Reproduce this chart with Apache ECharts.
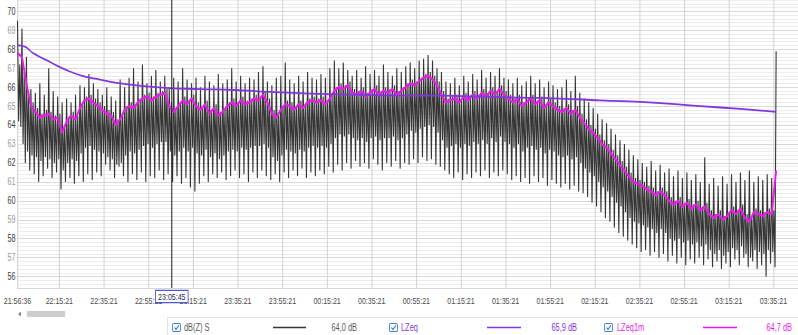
<!DOCTYPE html>
<html><head><meta charset="utf-8">
<script src="https://cdn.jsdelivr.net/npm/echarts@6/dist/echarts.min.js"></script>
<style>html,body{margin:0;padding:0;background:#fff;}
#wrap{width:798px;height:335px;overflow:hidden;position:relative;}
#c{width:1108px;height:335px;transform:scaleX(0.720217);transform-origin:0 0;}</style>
</head><body><div id="wrap"><div id="c"></div></div>
<script>
// ---------- data ----------
const startTime = '21:56:36';
const xTickLabels = ['21:56:36','22:15:21','22:35:21','22:55:21','23:15:21','23:35:21','23:55:21','00:15:21','00:35:21','00:55:21','01:15:21','01:35:21','01:55:21','02:15:21','02:35:21','02:55:21','03:15:21','03:35:21'];
const yTickLabels = [56,57,58,59,60,61,62,63,64,65,66,67,68,69,70];
const cursorTime = '23:05:45';
const seriesNames = ['dB(Z) S','LZeq','LZeq1m'];
const legendValues = ['64,0 dB','65,9 dB','64,7 dB'];
// dB(Z) S : one reading every half minute from start (peaks and troughs)
const dbzsStepMin = 0.5;
const dbzs = [
69.5,64.2,67.2,63.9, 69.1,63.0,66.8,62.0, 67.6,62.6,65.8,61.6, 65.9,62.4,65.2,61.4, 65.7,62.3,64.9,61.0,
66.2,62.1,64.6,61.3, 65.6,62.3,64.8,61.7, 67.0,62.2,64.7,61.2, 65.8,62.0,64.5,61.5, 65.5,62.2,64.6,60.6,
65.2,61.6,63.9,61.0, 65.4,62.0,64.4,61.2, 65.2,62.2,64.7,60.9, 65.6,62.1,64.5,61.3, 66.1,62.5,65.1,61.0,
66.0,62.8,65.5,61.4, 66.7,62.9,65.6,61.1, 66.2,62.7,65.4,61.5, 65.9,62.6,65.2,61.3, 65.6,62.5,65.0,61.9,
66.0,62.3,64.8,61.6, 65.5,62.2,64.7,61.2, 65.3,61.9,64.3,61.8, 66.4,62.0,64.5,61.3, 66.0,62.4,65.0,61.0,
66.5,62.6,65.2,61.4, 67.0,62.5,65.1,61.1, 66.3,62.7,65.4,61.5, 67.2,62.9,65.6,61.0, 66.2,63.0,65.7,61.3,
66.6,62.8,65.5,61.2, 66.9,63.0,65.7,61.6, 66.3,63.1,65.8,61.1, 66.6,63.1,65.9,61.4, 66.0,62.6,65.2,61.0,
66.5,62.4,64.9,61.3, 66.3,62.6,65.2,60.9, 67.0,62.8,65.5,61.2, 66.4,62.6,65.3,60.7, 66.2,62.8,65.6,60.5,
66.5,62.5,65.2,60.9, 66.0,62.4,65.0,61.3, 66.6,62.7,65.3,61.0, 66.3,62.3,64.8,61.4, 66.1,62.5,65.1,61.2,
66.7,62.2,64.7,61.5, 66.2,62.4,64.9,61.1, 66.4,62.6,65.2,61.3, 67.0,62.7,65.4,61.6, 66.3,62.6,65.2,61.2,
66.6,62.8,65.5,61.4, 66.2,62.7,65.3,61.0, 66.5,62.8,65.4,61.5, 66.4,62.9,65.6,61.2, 66.8,62.9,65.5,61.6,
67.1,63.0,65.8,61.3, 66.3,62.8,65.4,61.1, 66.1,62.3,64.8,61.4, 66.5,62.1,64.6,61.0, 66.6,62.4,65.0,61.5,
67.3,62.7,65.3,61.2, 66.4,62.6,65.2,61.6, 66.2,62.5,65.0,61.3, 66.6,62.7,65.3,61.7, 66.3,62.6,65.1,61.2,
66.8,62.8,65.4,61.5, 66.5,62.9,65.5,61.3, 66.4,62.8,65.4,61.6, 66.7,62.9,65.5,61.4, 66.5,62.8,65.3,61.8,
67.0,63.0,65.6,61.5, 67.4,63.3,66.0,61.9, 67.0,63.5,66.2,61.6, 67.3,63.4,66.1,62.0, 66.9,63.5,66.3,61.7,
66.6,63.3,65.9,62.1, 66.9,63.2,65.8,61.8, 66.5,63.3,66.0,62.0, 67.1,63.1,65.7,61.7, 66.7,63.3,65.9,62.2,
66.9,63.4,66.1,61.9, 66.6,63.2,65.8,61.6, 67.2,63.3,66.0,62.0, 66.8,63.3,65.9,61.8, 66.6,63.4,66.1,62.1,
67.0,63.2,65.8,61.7, 66.8,63.3,66.0,62.0, 67.1,63.5,66.2,61.9, 67.3,63.7,66.4,62.2, 67.0,63.6,66.3,62.0,
67.4,63.8,66.5,62.3, 67.5,63.9,66.7,62.1, 67.7,64.0,66.8,62.2, 67.4,63.9,66.6,61.9, 67.0,63.6,66.3,61.8,
66.8,63.2,65.8,61.6, 66.3,62.8,65.4,61.4, 66.2,62.9,65.5,61.2, 66.5,63.0,65.6,61.5, 66.1,62.8,65.4,61.1,
66.6,63.0,65.7,61.4, 66.3,62.9,65.5,61.2, 66.7,63.1,65.8,61.5, 66.4,63.0,65.6,61.3, 66.9,63.2,65.9,61.6,
66.5,63.0,65.7,61.2, 66.8,63.3,66.0,61.5, 66.6,63.1,65.8,61.3, 67.0,63.4,66.1,61.6, 66.5,63.1,65.8,61.4,
66.4,63.0,65.6,61.1, 66.2,62.8,65.4,61.3, 66.5,63.0,65.6,61.0, 66.1,62.6,65.2,61.2, 66.3,62.8,65.4,60.9,
66.6,62.9,65.6,61.3, 66.2,62.7,65.3,61.0, 66.4,62.8,65.5,61.2, 66.0,62.5,65.1,60.8, 66.3,62.7,65.4,61.1,
66.1,62.6,65.2,60.9, 65.9,62.4,65.0,60.7, 66.0,62.3,64.9,60.9, 66.4,62.4,65.1,60.6, 65.8,62.2,64.8,60.8,
66.6,62.3,65.0,60.5, 65.7,62.0,64.6,60.4, 65.4,61.7,64.3,60.2, 65.2,61.5,64.0,59.9, 64.9,61.3,63.8,59.7,
64.6,61.0,63.5,59.4, 64.3,60.7,63.2,59.1, 64.1,60.5,63.0,58.9, 63.8,60.2,62.7,58.6, 63.5,59.9,62.4,58.3,
63.2,59.7,62.1,58.1, 63.0,59.4,61.8,57.9, 62.7,59.1,61.5,57.7, 62.4,58.9,61.2,57.5, 62.2,58.8,61.1,57.3,
62.0,58.7,61.0,57.4, 61.8,58.6,60.8,57.1, 62.1,58.5,60.7,57.3, 61.6,58.3,60.5,57.0, 61.9,58.5,60.7,57.2,
61.5,58.3,60.5,56.8, 61.7,58.0,60.2,57.1, 61.3,57.9,60.0,56.7, 61.6,58.0,60.2,57.0, 61.2,57.8,59.9,56.6,
61.5,57.9,60.1,56.9, 61.1,57.7,59.8,56.7, 61.4,57.8,60.0,57.0, 61.0,57.6,59.7,56.6, 62.3,57.7,59.9,56.9,
60.9,57.4,59.5,56.5, 61.2,57.2,59.3,56.8, 60.8,57.4,59.5,56.4, 61.3,57.1,59.2,56.7, 60.9,57.3,59.4,56.5,
61.4,57.5,59.7,56.9, 61.0,57.4,59.5,56.6, 61.5,57.6,59.8,57.0, 61.1,57.2,59.3,56.5, 61.6,57.0,59.1,56.8,
61.0,57.4,59.6,56.4, 61.3,57.3,59.5,56.6, 61.1,57.2,59.4,56.0, 61.4,57.4,59.6,56.7, 61.2,57.3,59.5,56.5,
67.9
];
// LZeq1m : one reading every 2 minutes from start
const lzeq1mStepMin = 2;
const lzeq1m = [
67.8,67.6,66.2,65.0,64.7,64.4,64.5,64.6,64.3,64.4,
63.6,64.2,64.5,64.3,64.9,65.3,65.4,65.2,65.0,64.8,
64.6,64.5,64.0,64.3,64.8,65.0,64.9,65.2,65.4,65.5,
65.3,65.5,65.6,65.7,65.0,64.7,65.0,65.3,65.1,65.4,
65.0,64.8,65.1,64.6,64.9,64.5,64.7,65.0,65.2,65.0,
65.3,65.1,65.2,65.4,65.3,65.6,65.2,64.6,64.4,64.8,
65.1,65.0,64.8,65.1,64.9,65.2,65.3,65.2,65.3,65.1,
65.4,65.8,66.0,65.9,66.1,65.7,65.6,65.8,65.5,65.7,
65.9,65.6,65.8,65.7,65.9,65.6,65.8,66.0,66.2,66.1,
66.3,66.5,66.6,66.4,66.1,65.6,65.2,65.3,65.4,65.2,
65.5,65.3,65.6,65.4,65.7,65.5,65.8,65.6,65.9,65.6,
65.4,65.2,65.4,65.0,65.2,65.4,65.1,65.3,64.9,65.2,
65.0,64.8,64.7,64.9,64.6,64.8,64.4,64.1,63.8,63.6,
63.3,63.0,62.8,62.5,62.2,61.9,61.6,61.3,61.0,60.9,
60.8,60.6,60.5,60.3,60.5,60.3,60.0,59.8,60.0,59.7,
59.9,59.6,59.8,59.5,59.7,59.3,59.1,59.3,59.0,59.2,
59.5,59.3,59.6,59.1,58.9,59.4,59.3,59.2,59.4,59.3,
61.6
];
// LZeq (running) : time, value
const lzeqTimes = ['21:56:36','21:59:36','22:03:36','22:11:36','22:18:36','22:25:36','22:33:36','22:42:36','22:53:36','23:04:36','23:18:36','23:33:36','23:49:36','00:10:36','00:29:36','00:47:36','01:05:36','01:23:36','01:41:36','01:59:36','02:17:36','02:39:36','03:02:36','03:20:36','03:36:36'];
const lzeqValues = [68.2,68.15,67.8,67.3,66.9,66.6,66.4,66.2,66.05,65.95,65.9,65.85,65.75,65.65,65.6,65.55,65.55,65.5,65.45,65.4,65.3,65.2,65.0,64.85,64.7];

// ---------- helpers ----------
const S = 798/1108;            // horizontal squeeze of the whole picture
function X(px){return px/S;}   // screen x -> chart x
function secOf(t){const p=t.split(':').map(Number);return p[0]*3600+p[1]*60+p[2];}
const startSec = secOf(startTime);
function toMin(t){let s=secOf(t);if(s<startSec)s+=86400;return (s-startSec)/60;}
const tickMins = xTickLabels.map(toMin);
const cursorMin = toMin(cursorTime);
const FONT = "'Liberation Sans',Arial,sans-serif";
const colGray = '#363636', colPurple = '#8136e0', colMag = '#e61ee6';
const colors = [colGray, colPurple, colMag];
const minor = '#e9e9e9', major = '#d3d3d3';

const chart = echarts.init(document.getElementById('c'), null, {renderer:'svg', width:1108, height:335});

// scrollbar + legend panel (graphic)
const g = [];
g.push({type:'polygon', shape:{points:[[X(18),314],[X(21),311.5],[X(21),316.5]]}, style:{fill:'#8a8a8a'}});
g.push({type:'rect', shape:{x:X(27),y:311,width:X(38),height:6}, style:{fill:'#cdcdcd'}});
g.push({type:'rect', shape:{x:X(167.5),y:317.5,width:X(640),height:30}, style:{fill:'#fff', stroke:'#e0e0e0', lineWidth:1}});
const items = [
  {cb:172, name:184, l1:273, l2:306, val:357},
  {cb:389, name:401, l1:487, l2:521, val:577},
  {cb:604, name:617, l1:703, l2:737, val:792}
];
const textCols = ['#5a5a5a', colPurple, colMag];
items.forEach((it,i)=>{
  g.push({type:'rect', shape:{x:X(it.cb+0.5),y:323.5,width:X(8),height:8,r:1.5}, style:{fill:'#fff',stroke:'#3d7fd9',lineWidth:1.2}});
  g.push({type:'polyline', shape:{points:[[X(it.cb+2.4),327.6],[X(it.cb+4),329.5],[X(it.cb+7),325.3]]}, style:{stroke:'#3d7fd9',lineWidth:1.3,fill:null}});
  g.push({type:'text', x:X(it.name), y:327.5, style:{text:seriesNames[i], fill:textCols[i], font:'10.3px '+FONT, textVerticalAlign:'middle', textAlign:'left'}});
  g.push({type:'line', shape:{x1:X(it.l1),y1:327.5,x2:X(it.l2),y2:327.5}, style:{stroke:colors[i], lineWidth:1.6}});
  g.push({type:'text', x:X(it.val), y:327.5, style:{text:legendValues[i], fill:textCols[i], font:'10.3px '+FONT, textVerticalAlign:'middle', textAlign:'right'}});
});

const option = {
  animation:false,
  backgroundColor:'#fff',
  grid:{left:X(17.5), right:0, top:0, bottom:47, containLabel:false},
  xAxis:{
    type:'value', min:0, max:349.8,
    axisLine:{show:true, lineStyle:{color:'#d0d0d0'}},
    axisTick:{show:false, customValues:tickMins},
    axisLabel:{customValues:tickMins, margin:8, color:'#4a4a4a', fontSize:9.8, fontFamily:FONT,
      formatter:function(v){for(let i=0;i<tickMins.length;i++){if(Math.abs(v-tickMins[i])<1e-6)return xTickLabels[i];}return '';}},
    splitLine:{show:true, lineStyle:{color:'#d2d2d2', width:1.4}}
  },
  yAxis:{
    type:'value', min:55.4, max:70.6, interval:0.2,
    axisLine:{show:false}, axisTick:{show:false},
    axisLabel:{margin:X(2), fontSize:10, fontFamily:FONT,
      formatter:function(v){const r=Math.round(v);if(Math.abs(v-r)>1e-6||yTickLabels.indexOf(r)<0)return '';return (r%2===0?'{a|':'{b|')+r+'}';},
      rich:{a:{color:'#3a3a3a',fontSize:10,fontFamily:FONT},b:{color:'#9a9a9a',fontSize:10,fontFamily:FONT}}},
    splitLine:{show:true, lineStyle:{color:[minor,minor,minor,major,minor], width:1}}
  },
  series:[
    {name:seriesNames[0], type:'line', showSymbol:false, symbol:'none', z:2, sampling:null,
     data:dbzs.map((v,i)=>[i*dbzsStepMin,v]), lineStyle:{color:colGray,width:1.5}, itemStyle:{color:colGray},
     markLine:{symbol:'none', silent:true, animation:false,
       lineStyle:{color:'#1a1a1a', width:1.4, type:'solid'},
       label:{show:true, position:'start', distance:3, formatter:cursorTime, color:'#2a2a5a', fontSize:9.8, fontFamily:FONT,
              backgroundColor:'#fff', borderColor:'#4a5ad8', borderWidth:1.2, padding:[1,3,0,3]},
       data:[{xAxis:cursorMin}]}},
    {name:seriesNames[2], type:'line', showSymbol:false, symbol:'none', z:3,
     data:lzeq1m.map((v,i)=>[i*lzeq1mStepMin,v]), lineStyle:{color:colMag,width:2.6}, itemStyle:{color:colMag}},
    {name:seriesNames[1], type:'line', showSymbol:false, symbol:'none', smooth:true, z:4,
     data:lzeqTimes.map((t,i)=>[toMin(t),lzeqValues[i]]), lineStyle:{color:colPurple,width:1.8}, itemStyle:{color:colPurple}}
  ],
  graphic:g
};
chart.setOption(option);
</script></body></html>
